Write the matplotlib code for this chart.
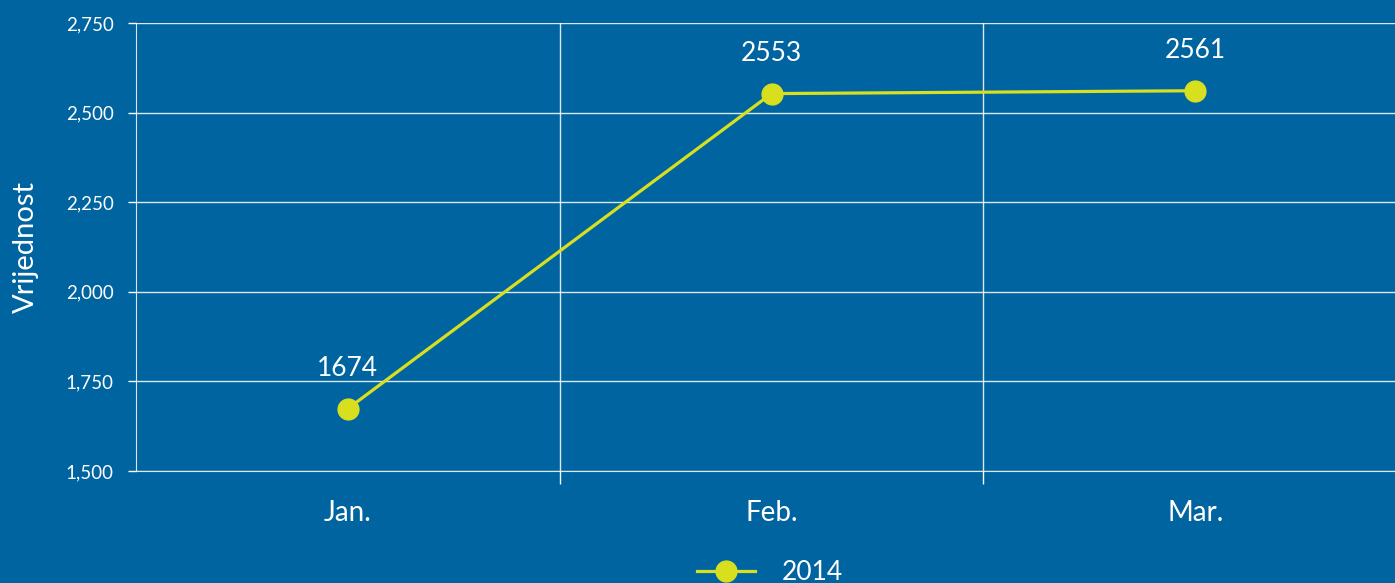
import matplotlib
matplotlib.use("Agg")
import matplotlib.pyplot as plt

months = ["Jan.", "Feb.", "Mar."]
values_2014 = [1674, 2553, 2561]
series_name = "2014"
y_ticks = [1500, 1750, 2000, 2250, 2500, 2750]

BG = "#0064a0"
LINE = "#d8df1e"

plt.rcParams["font.family"] = ["Lato", "DejaVu Sans"]

fig = plt.figure(figsize=(13.95, 5.83), dpi=100, facecolor=BG)
ax = fig.add_axes([136 / 1395, 112 / 583, 1271 / 1395, 448 / 583])
ax.set_facecolor(BG)

x = list(range(len(months)))
ax.plot(x, values_2014, color=LINE, lw=2.3, marker="o", ms=15,
        label=series_name, zorder=3, clip_on=False)
for xi, v in zip(x, values_2014):
    ax.annotate(str(v), (xi, v), xytext=(0, 29), textcoords="offset points",
                ha="center", va="center", color="white", fontsize=19)

ax.set_xlim(-0.5, len(months) - 0.5)
ax.set_ylim(y_ticks[0], y_ticks[-1])
ax.set_yticks(y_ticks)
ax.set_yticklabels([f"{t:,}" for t in y_ticks])
ax.set_xticks(x)
ax.set_xticklabels(months)
ax.set_xticks([i + 0.5 for i in x[:-1]], minor=True)

ax.grid(axis="y", color="white", alpha=0.85, lw=1)
ax.grid(axis="x", which="minor", color="white", alpha=0.85, lw=1)
ax.tick_params(axis="y", colors="white", length=6, width=1, pad=10, labelsize=13.5)
ax.tick_params(axis="x", which="major", length=0, pad=21, labelsize=20,
               labelcolor="white")
ax.tick_params(axis="x", which="minor", length=9, width=1, color="white")
for s in ("top", "right"):
    ax.spines[s].set_visible(False)
for s in ("left", "bottom"):
    ax.spines[s].set_color("white")
    ax.spines[s].set_alpha(0.85)

ax.set_ylabel("Vrijednost", color="white", fontsize=21, labelpad=19)

leg = fig.legend(loc="center", bbox_to_anchor=(770 / 1395, 10 / 583),
                 frameon=False, fontsize=19, handlelength=2.2,
                 handletextpad=1.0, labelcolor="white")

fig.savefig("out.png", dpi=100, facecolor=BG)
